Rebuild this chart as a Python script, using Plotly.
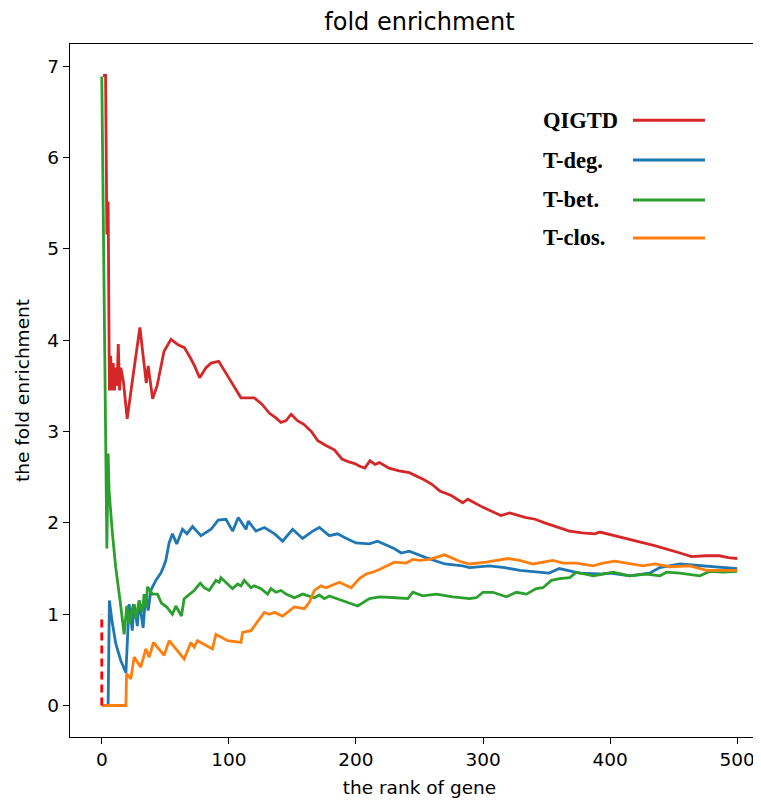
import plotly.graph_objects as go

# ---------------- data ----------------
qigtd_x = [1, 3, 4, 5, 6, 7, 8, 9, 10, 11, 12, 13, 14, 15, 17, 20, 25, 30, 35, 36.5, 40, 43.5,
           49, 54.5, 60, 65, 70, 73, 77, 82, 86, 92, 99, 104, 109.5, 115, 120, 126, 132, 137, 141,
           145, 149, 154, 159, 165, 170, 176, 183, 189, 194, 199, 203, 207, 211, 215, 218.5, 226,
           234, 242, 248, 254, 260, 266, 275, 284, 288, 300, 314, 321, 333, 341, 348.5, 358,
           368, 378, 388, 392, 404, 415.5, 435, 455, 464, 475, 486, 493, 500]
qigtd_y = [6.9, 6.9, 5.16, 5.52, 3.45, 3.83, 3.45, 3.75, 3.45, 3.7, 3.5, 3.96, 3.45, 3.7, 3.55,
           3.14, 3.65, 4.14, 3.53, 3.72, 3.36, 3.5, 3.88, 4.01, 3.95, 3.92, 3.8, 3.72, 3.59, 3.7,
           3.75, 3.77, 3.61, 3.5, 3.37, 3.37, 3.37, 3.3, 3.2, 3.15, 3.1, 3.12, 3.19, 3.12, 3.08,
           3.0, 2.9, 2.85, 2.8, 2.7, 2.67, 2.65, 2.62, 2.6, 2.68, 2.64, 2.66, 2.6, 2.57, 2.55,
           2.51, 2.47, 2.42, 2.35, 2.3, 2.22, 2.26, 2.17, 2.08, 2.11, 2.06, 2.04, 2.0, 1.96,
           1.91, 1.89, 1.88, 1.9, 1.86, 1.82, 1.75, 1.67, 1.63, 1.64, 1.64, 1.62, 1.61]

tdeg_x = [1, 5, 6, 8, 11, 15, 19, 21.5, 24, 25.5, 28, 29.5, 32.5, 34.7, 36.5, 38.6, 42.5, 46.5,
          48.3, 50.4, 53, 55.6, 59, 63.5, 67, 71.4, 78, 86, 91.6, 97.7, 103, 107.4, 113.5,
          115.3, 121.3, 128, 136, 142.3, 150.2, 158, 166, 171.2, 179, 185.6, 191, 200, 210.6,
          217, 230, 235.6, 242, 255, 270, 284, 289.4, 305, 317, 329, 352, 360, 376, 392, 400,
          415.5, 431, 439, 455, 471, 486, 500]
tdeg_y = [0, 0, 1.15, 0.93, 0.68, 0.49, 0.36, 1.11, 0.82, 1.11, 0.87, 1.15, 0.85, 1.22, 1.04,
          1.26, 1.37, 1.45, 1.51, 1.59, 1.78, 1.88, 1.77, 1.93, 1.88, 1.96, 1.86, 1.93, 2.03,
          2.04, 1.91, 2.06, 1.93, 2.02, 1.91, 1.95, 1.88, 1.80, 1.93, 1.83, 1.91, 1.95, 1.86,
          1.88, 1.84, 1.78, 1.77, 1.80, 1.72, 1.67, 1.69, 1.62, 1.55, 1.53, 1.51, 1.53, 1.51,
          1.48, 1.45, 1.50, 1.45, 1.44, 1.45, 1.42, 1.45, 1.51, 1.55, 1.53, 1.51, 1.50]

tbet_x = [0, 3, 4, 5, 5.75, 8.4, 11, 14.4, 17.6, 19.7, 21.5, 24.9, 26.8, 29.4, 32, 33.3, 35.1,
          35.9, 39.9, 43.8, 47, 51, 55.6, 58.3, 62.7, 64.8, 68.8, 72.7, 77.5, 80.6, 84.5, 89.8,
          92.4, 93.7, 99, 102.9, 106.9, 109.5, 112.1, 117.4, 120, 125.3, 130.5, 133.1, 137.1,
          141, 145, 151.5, 158.1, 162, 167.3, 171.2, 175.1, 179, 189.6, 201.4, 210.6, 218.5,
          231.6, 240.8, 244.7, 252.6, 263.2, 276.2, 289.4, 294.7, 299.9, 307.8, 318.3, 326.2,
          334.1, 341.9, 347.1, 353.8, 360.3, 368.2, 373.5, 386.6, 394.4, 402.3, 415.5, 428.6,
          439.1, 444.4, 454.8, 470.6, 478.5, 489, 500]
tbet_y = [6.89, 2.76, 1.72, 2.76, 2.35, 1.88, 1.51, 1.15, 0.78, 1.09, 0.9, 1.11, 0.95, 1.15,
          1.02, 1.22, 1.07, 1.30, 1.22, 1.22, 1.12, 1.08, 1.0, 1.09, 0.98, 1.17, 1.22, 1.26,
          1.34, 1.29, 1.26, 1.37, 1.35, 1.40, 1.33, 1.28, 1.33, 1.31, 1.37, 1.29, 1.31, 1.28,
          1.22, 1.28, 1.24, 1.26, 1.22, 1.18, 1.22, 1.20, 1.18, 1.21, 1.17, 1.20, 1.15, 1.09,
          1.17, 1.19, 1.18, 1.17, 1.24, 1.20, 1.22, 1.19, 1.17, 1.18, 1.24, 1.24, 1.19, 1.24,
          1.22, 1.28, 1.29, 1.37, 1.39, 1.40, 1.46, 1.42, 1.44, 1.46, 1.42, 1.44, 1.42, 1.46,
          1.45, 1.42, 1.47, 1.46, 1.47]

tclos_x = [0, 19, 19.5, 22.8, 25.5, 30.7, 34.7, 37.3, 40.7, 49.1, 53, 64.8, 70.1, 72.7, 75.3,
           87.1, 89.8, 99, 109.5, 110.8, 117.4, 120, 122.6, 125.3, 127.9, 131.8, 135.8, 142.3,
           146.2, 151.5, 159.4, 163.3, 167.3, 172.5, 176.5, 183, 187, 196.2, 202.7, 208, 213.2,
           218.5, 230.3, 239.5, 244.7, 250, 257.9, 269.7, 281.5, 289.4, 302.5, 319.6, 328.8,
           339.3, 355, 362.9, 373.5, 386.6, 394.4, 403.6, 415.5, 425.9, 435.2, 447, 462.7,
           475.9, 486.4, 500]
tclos_y = [0, 0, 0.35, 0.29, 0.53, 0.42, 0.62, 0.53, 0.69, 0.55, 0.71, 0.51, 0.69, 0.64, 0.71,
           0.62, 0.78, 0.71, 0.69, 0.80, 0.82, 0.87, 0.93, 0.97, 1.02, 1.0, 1.02, 0.98, 1.02,
           1.08, 1.06, 1.13, 1.26, 1.31, 1.29, 1.33, 1.35, 1.29, 1.39, 1.44, 1.46, 1.49, 1.57,
           1.56, 1.60, 1.59, 1.60, 1.65, 1.58, 1.55, 1.57, 1.61, 1.59, 1.55, 1.59, 1.56, 1.56,
           1.53, 1.56, 1.58, 1.55, 1.53, 1.55, 1.52, 1.53, 1.48, 1.48, 1.48]

ref_x = [0, 0]
ref_y = [0, 1]

series_names = ["QIGTD", "T-deg.", "T-bet.", "T-clos."]
series_colors = ["#d62728", "#1f77b4", "#2ca02c", "#ff7f0e"]
x_ticks = [0, 100, 200, 300, 400, 500]
y_ticks = [0, 1, 2, 3, 4, 5, 6, 7]

# ---------------- figure ----------------
fig = go.Figure()
for (xs, ys), name, col in zip([(qigtd_x, qigtd_y), (tdeg_x, tdeg_y), (tbet_x, tbet_y),
                                (tclos_x, tclos_y)], series_names, series_colors):
    fig.add_trace(go.Scatter(x=xs, y=ys, mode="lines", name=name,
                             line=dict(color=col, width=2.8), showlegend=False))
fig.add_trace(go.Scatter(x=ref_x, y=ref_y, mode="lines", showlegend=False,
                         line=dict(color="#ff0000", width=2.8, dash="8px,5px")))

# custom legend: bold serif text with line sample on its right
leg_y = [0.890, 0.8326, 0.7749, 0.7201]
for name, col, yy in zip(series_names, series_colors, leg_y):
    fig.add_annotation(x=0.6738, y=yy, xref="paper", yref="paper", text="<b>%s</b>" % name,
                       showarrow=False, xanchor="left", yanchor="middle",
                       font=dict(family="Liberation Serif", size=22.5, color="black"))
    fig.add_shape(type="line", xref="paper", yref="paper", x0=0.8054, x1=0.9084, y0=yy, y1=yy,
                  line=dict(color=col, width=3))

font_main = "DejaVu Sans"
fig.update_layout(
    width=761, height=792,
    margin=dict(l=62, r=0, t=36, b=63),
    paper_bgcolor="white", plot_bgcolor="white",
    title=dict(text="fold enrichment", x=0.5, xref="paper", y=1 - 14 / 792,
               yanchor="middle", xanchor="center",
               font=dict(family=font_main, size=24, color="black")),
    font=dict(family=font_main, size=18, color="black"),
)
fig.update_xaxes(range=[-25, 525], tickvals=x_ticks, showgrid=False, zeroline=False,
                 showline=True, linecolor="black", linewidth=1.3, mirror=True,
                 ticks="outside", ticklen=6, tickwidth=1.3, tickcolor="black",
                 tickfont=dict(family=font_main, size=18.5),
                 title=dict(text="the rank of gene", standoff=11,
                            font=dict(family=font_main, size=18.5)))
fig.update_yaxes(range=[-0.345, 7.245], tickvals=y_ticks, showgrid=False, zeroline=False,
                 showline=True, linecolor="black", linewidth=1.3,
                 ticks="outside", ticklen=6, tickwidth=1.3, tickcolor="black",
                 tickfont=dict(family=font_main, size=18.5),
                 title=dict(text="the fold enrichment", standoff=12,
                            font=dict(family=font_main, size=18.5)))

fig.write_html("out.html")
